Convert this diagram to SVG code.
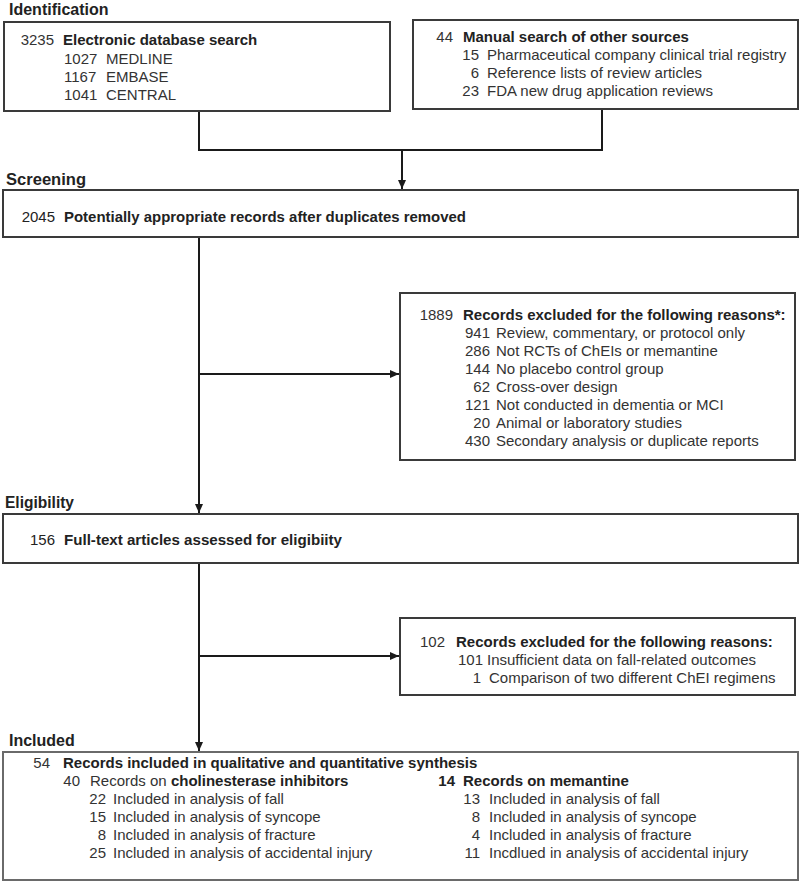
<svg xmlns="http://www.w3.org/2000/svg" width="800" height="882" viewBox="0 0 800 882">
<style>
.bg{fill:#fff}
.box{fill:#fff;stroke:#3a3a3a;stroke-width:2}
.conn{stroke:#1a1a1a;stroke-width:2;fill:none}
.t{font-family:"Liberation Sans",Arial,sans-serif;font-size:15px;fill:#333}
.b{font-weight:bold;fill:#222}
.e{text-anchor:end}
.h{font-family:"Liberation Sans",Arial,sans-serif;font-weight:bold;font-size:16px;fill:#222}
.nw{font-family:"Liberation Sans Narrow","Arial Narrow","Liberation Sans",sans-serif;fill:#222}
</style>
<defs>
<marker id="arr" markerUnits="userSpaceOnUse" markerWidth="10" markerHeight="10" refX="9" refY="5" orient="auto">
<path d="M0,1 L9,5 L0,9 z" fill="#1a1a1a"/>
</marker>
</defs>
<rect class="bg" x="0" y="0" width="800" height="882"/>

<g id="labels">
<text class="h" x="9" y="15">Identification</text>
<text class="h nw" x="6" y="185" font-size="17" textLength="80" lengthAdjust="spacingAndGlyphs">Screening</text>
<text class="h nw" x="5" y="508" font-size="17" textLength="69" lengthAdjust="spacingAndGlyphs">Eligibility</text>
<text class="h" x="9" y="746">Included</text>
</g>

<g id="connectors">
<path class="conn" d="M199,111 V150 H602 V109"/>
<path class="conn" d="M402,150 V189" marker-end="url(#arr)"/>
<path class="conn" d="M199,237 V513" marker-end="url(#arr)"/>
<path class="conn" d="M199,374 H399" marker-end="url(#arr)"/>
<path class="conn" d="M199,563 V751" marker-end="url(#arr)"/>
<path class="conn" d="M199,656 H399" marker-end="url(#arr)"/>
</g>

<g id="n_electronic">
<rect class="box" x="4" y="22" width="386" height="89"/>
<text class="t e" x="54" y="45">3235</text>
<text class="t b" x="63" y="45">Electronic database search</text>
<text class="t" x="64" y="64">1027</text><text class="t" x="106" y="64">MEDLINE</text>
<text class="t" x="64" y="82">1167</text><text class="t" x="106" y="82">EMBASE</text>
<text class="t" x="64" y="100">1041</text><text class="t" x="106" y="100">CENTRAL</text>
</g>

<g id="n_manual">
<rect class="box" x="413" y="20" width="385" height="89"/>
<text class="t e" x="453" y="42">44</text>
<text class="t b" x="463" y="42">Manual search of other sources</text>
<text class="t e" x="479" y="60">15</text><text class="t" x="487" y="60">Pharmaceutical company clinical trial registry</text>
<text class="t e" x="479" y="78">6</text><text class="t" x="487" y="78">Reference lists of review articles</text>
<text class="t e" x="479" y="96">23</text><text class="t" x="487" y="96">FDA new drug application reviews</text>
</g>

<g id="n_screening">
<rect class="box" x="3" y="190" width="795" height="47"/>
<text class="nw e" x="55" y="222" font-size="15">2045</text>
<text class="nw b" x="64" y="222" font-size="15" font-weight="bold" textLength="402" lengthAdjust="spacingAndGlyphs">Potentially appropriate records after duplicates removed</text>
</g>

<g id="n_excluded1">
<rect class="box" x="400" y="293" width="395" height="167"/>
<text class="t e" x="453" y="320">1889</text>
<text class="t b" x="463" y="320">Records excluded for the following reasons*:</text>
<text class="t e" x="490" y="338">941</text><text class="t" x="496" y="338">Review, commentary, or protocol only</text>
<text class="t e" x="490" y="356">286</text><text class="t" x="496" y="356">Not RCTs of ChEIs or memantine</text>
<text class="t e" x="490" y="374">144</text><text class="t" x="496" y="374">No placebo control group</text>
<text class="t e" x="490" y="392">62</text><text class="t" x="496" y="392">Cross-over design</text>
<text class="t e" x="490" y="410">121</text><text class="t" x="496" y="410">Not conducted in dementia or MCI</text>
<text class="t e" x="490" y="428">20</text><text class="t" x="496" y="428">Animal or laboratory studies</text>
<text class="t e" x="490" y="446">430</text><text class="t" x="496" y="446">Secondary analysis or duplicate reports</text>
</g>

<g id="n_eligibility">
<rect class="box" x="3" y="514" width="795" height="49"/>
<text class="nw e" x="55" y="545" font-size="15">156</text>
<text class="nw b" x="64" y="545" font-size="15" font-weight="bold" textLength="278" lengthAdjust="spacingAndGlyphs">Full-text articles assessed for eligibiity</text>
</g>

<g id="n_excluded2">
<rect class="box" x="400" y="618" width="395" height="77"/>
<text class="t e" x="445" y="647">102</text>
<text class="t b" x="456" y="647">Records excluded for the following reasons:</text>
<text class="t e" x="483" y="665">101</text><text class="t" x="487" y="665">Insufficient data on fall-related outcomes</text>
<text class="t e" x="481" y="683">1</text><text class="t" x="489" y="683">Comparison of two different ChEI regimens</text>
</g>

<g id="n_included">
<rect class="box" x="3" y="752" width="795" height="128" style="stroke:#6a6a6a"/>
<text class="t e" x="50" y="768">54</text>
<text class="t b" x="63" y="768">Records included in qualitative and quantitative synthesis</text>
<text class="t e" x="80" y="786">40</text>
<text class="t" x="90" y="786">Records on <tspan class="b">cholinesterase inhibitors</tspan></text>
<text class="t e" x="106" y="804">22</text><text class="t" x="113" y="804">Included in analysis of fall</text>
<text class="t e" x="106" y="822">15</text><text class="t" x="113" y="822">Included in analysis of syncope</text>
<text class="t e" x="106" y="840">8</text><text class="t" x="113" y="840">Included in analysis of fracture</text>
<text class="t e" x="106" y="858">25</text><text class="t" x="113" y="858">Included in analysis of accidental injury</text>
<text class="t b e" x="455" y="786">14</text>
<text class="t b" x="463" y="786">Records on memantine</text>
<text class="t e" x="480" y="804">13</text><text class="t" x="489" y="804">Included in analysis of fall</text>
<text class="t e" x="480" y="822">8</text><text class="t" x="489" y="822">Included in analysis of syncope</text>
<text class="t e" x="480" y="840">4</text><text class="t" x="489" y="840">Included in analysis of fracture</text>
<text class="t e" x="480" y="858">11</text><text class="t" x="489" y="858">Incdlued in analysis of accidental injury</text>
</g>
</svg>
